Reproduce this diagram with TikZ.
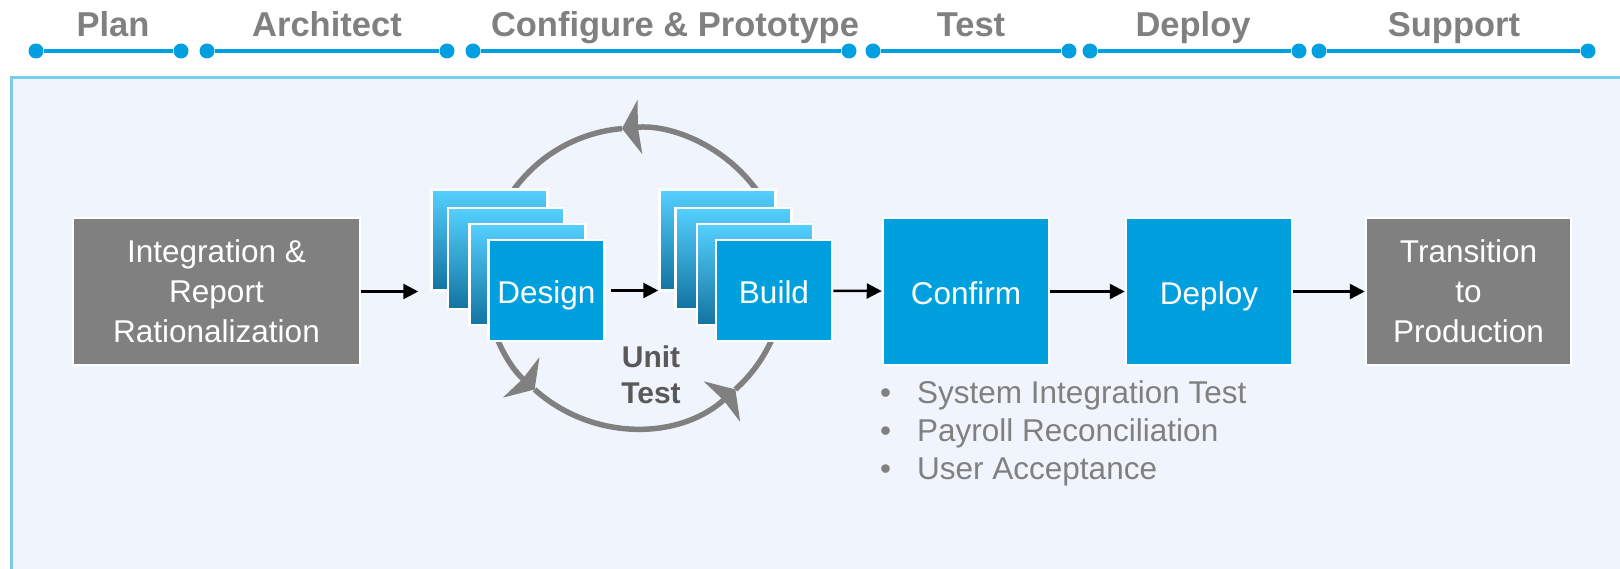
\documentclass[tikz,border=0pt]{standalone}
\usepackage{fontspec}
\setmainfont{Liberation Sans}
\usetikzlibrary{arrows.meta,positioning}

\definecolor{phaseblue}{RGB}{0,160,224}
\definecolor{boxblue}{RGB}{0,160,222}
\definecolor{boxgray}{RGB}{128,128,128}
\definecolor{labelgray}{RGB}{128,128,128}
\definecolor{unitgray}{RGB}{89,89,89}
\definecolor{panelfill}{RGB}{239,244,253}
\definecolor{panelline}{RGB}{125,203,234}
\definecolor{cardtop}{RGB}{85,208,255}
\definecolor{cardbot}{RGB}{18,115,160}

\begin{document}
\begin{tikzpicture}
  [x=1pt,y=-1pt,every node/.style={text=white,align=center,inner sep=0pt}]
  \tikzstyle{phase} = [font=\bfseries\fontsize{34.5}{40}\selectfont,text=labelgray,anchor=base]
  \tikzstyle{dot} = [circle,fill=phaseblue,minimum size=15pt]
  \tikzstyle{stepbox} = [draw=white,line width=2.5pt,minimum height=147pt,font=\fontsize{31.5}{40}\selectfont]
  \tikzstyle{oneline} = [text height=28pt,text depth=1.5pt]
  \tikzstyle{card} = [draw=white,line width=2.5pt,minimum width=116pt,minimum height=101pt,top color=cardtop,bottom color=cardbot]
  \tikzstyle{front} = [draw=white,line width=2.5pt,minimum width=116pt,minimum height=101pt,fill=boxblue,font=\fontsize{31.5}{39}\selectfont,oneline]
  \tikzstyle{flow} = [-{Triangle[length=15pt,width=15pt]},line width=2.5pt]
  \tikzstyle{ring} = [draw=boxgray,line width=5.5pt,-{Stealth[length=18pt,width=54pt,inset=2pt]}]

  \useasboundingbox (0,0) rectangle (1620,569);
  % light panel behind the process
  \draw[panelline,fill=panelfill,line width=3pt] (11,77.5) rectangle (1640,600);

  % phase bar
  \foreach \n/\xa/\xb/\xl/\txt in {pl/36/181/113/Plan, ar/207/447/327/Architect,
      cp/473/849/675/Configure \& Prototype, ts/873/1069/971/Test,
      dp/1090/1299/1193/Deploy, sp/1319/1588/1454/Support} {
    \node[dot] (\n-a) at (\xa,51) {};
    \node[dot] (\n-b) at (\xb,51) {};
    \draw[phaseblue,line width=4pt] (\n-a) -- (\n-b);
    \node[phase] (\n) at (\xl,37) {\txt};
  }

  % unit test loop
  \coordinate (ut) at (635,278);
  \draw[ring] ([shift={(-312:150)}]ut) arc[start angle=-312,end angle=-455,radius=150];
  \draw[ring] ([shift={(-95:150)}]ut) arc[start angle=-95,end angle=-228,radius=150];
  \draw[ring] ([shift={(-228:150)}]ut) arc[start angle=-228,end angle=-312,radius=150];
  \node[font=\bfseries\fontsize{30}{36}\selectfont,text=unitgray] (ut-lbl) at (651,375) {Unit\\Test};

  % stacked cards
  \foreach \n/\x/\y in {des-1/489.5/240, des-2/506/258.5, des-3/527.5/274.5,
      bld-1/717.5/240, bld-2/733.5/258.5, bld-3/755/274.5}
    \node[card] (\n) at (\x,\y) {};
  \node[front] (des) at (546.5,290.5) {Design};
  \node[front] (bld) at (774,290.5) {Build};

  \node[stepbox,fill=boxgray,minimum width=287pt] (rat) at (216.5,291.5) {Integration \&\\Report\\Rationalization};
  \node[stepbox,oneline,fill=boxblue,minimum width=166pt] (cnf) at (966,291.5) {Confirm};
  \node[stepbox,oneline,fill=boxblue,minimum width=166pt] (dpl) at (1209,291.5) {Deploy};
  \node[stepbox,fill=boxgray,minimum width=205pt] (trn) at (1468.5,291.5) {Transition\\to\\Production};

  \node[anchor=west,align=left,text=labelgray,font=\fontsize{31.5}{38}\selectfont] (cnf-list) at (880,433)
    {\makebox[37pt][l]{•}System Integration Test\\\makebox[37pt][l]{•}Payroll Reconciliation\\\makebox[37pt][l]{•}User Acceptance};

  \draw[flow,shorten >=12pt] (rat) -- (rat -| des-1.west);
  \draw[flow,shorten <=5pt] (des) -- (des -| bld-1.west);
  \foreach \source/\dest in {bld/cnf,cnf/dpl,dpl/trn}
    \draw[flow] (\source) -- (\dest);
\end{tikzpicture}
\end{document}
